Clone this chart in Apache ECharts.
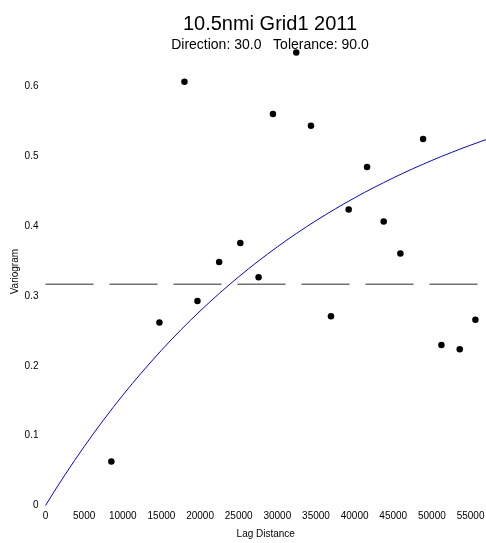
<!DOCTYPE html>
<html>
<head>
<meta charset="utf-8">
<script src="https://cdn.jsdelivr.net/npm/echarts@6/dist/echarts.min.js"></script>
<style>
html,body{margin:0;padding:0;background:#fff;}
#c{width:486px;height:543px;}
</style>
</head>
<body>
<div id="c"></div>
<script>
// Empirical variogram points: [lag distance, semivariance]
var lagDistance = [8520, 14740, 17980, 19660, 22470, 25210, 27570, 29430, 32450, 34350, 36940, 39230, 41610, 43760, 45920, 48860, 51230, 53600, 55630];
var semivariance = [0.063, 0.262, 0.607, 0.293, 0.349, 0.376, 0.327, 0.561, 0.649, 0.544, 0.271, 0.424, 0.485, 0.407, 0.361, 0.525, 0.230, 0.224, 0.266];

// Fitted model curve (lag step 1250)
var modelLag = [0, 1250, 2500, 3750, 5000, 6250, 7500, 8750, 10000, 11250, 12500, 13750, 15000, 16250, 17500, 18750, 20000, 21250, 22500, 23750, 25000, 26250, 27500, 28750, 30000, 31250, 32500, 33750, 35000, 36250, 37500, 38750, 40000, 41250, 42500, 43750, 45000, 46250, 47500, 48750, 50000, 51250, 52500, 53750, 55000, 56250, 57000];
var modelValue = [0, 0.0222, 0.0436, 0.0643, 0.0843, 0.1037, 0.1224, 0.1405, 0.1580, 0.1749, 0.1912, 0.2070, 0.2223, 0.2371, 0.2514, 0.2652, 0.2785, 0.2914, 0.3039, 0.3160, 0.3276, 0.3389, 0.3498, 0.3603, 0.3705, 0.3804, 0.3899, 0.3991, 0.4080, 0.4166, 0.4249, 0.4330, 0.4407, 0.4483, 0.4555, 0.4625, 0.4693, 0.4759, 0.4823, 0.4884, 0.4943, 0.5001, 0.5056, 0.5110, 0.5162, 0.5212, 0.5241];

// Sill (sample variance) line
var sillValue = 0.317;
var xRange = [0, 57000];

var titleText = '10.5nmi Grid1 2011';
var subtitleText = 'Direction: 30.0   Tolerance: 90.0';

var pts = lagDistance.map(function (x, i) { return [x, semivariance[i]]; });
var model = modelLag.map(function (x, i) { return [x, modelValue[i]]; });
var sill = [[xRange[0], sillValue], [xRange[1], sillValue]];

var font = '"Liberation Sans", Arial, sans-serif';
var chart = echarts.init(document.getElementById('c'), null, {renderer: 'canvas'});
chart.setOption({
  animation: false,
  backgroundColor: '#ffffff',
  title: [
    {text: titleText, left: 265, top: 9, textAlign: 'center',
     textStyle: {fontFamily: font, fontSize: 20, fontWeight: 'normal', color: '#000'}},
    {text: subtitleText, left: 265, top: 33, textAlign: 'center',
     textStyle: {fontFamily: font, fontSize: 14, fontWeight: 'normal', color: '#000'}}
  ],
  grid: {left: 45.5, right: 0, top: 37.8, bottom: 37.5, containLabel: false, outerBoundsMode: 'none'},
  xAxis: {
    type: 'value', min: xRange[0], max: xRange[1], interval: 5000,
    name: 'Lag Distance', nameLocation: 'middle', nameGap: 24, nameMoveOverlap: false,
    nameTextStyle: {fontFamily: font, fontSize: 10, color: '#000'},
    axisLine: {show: false}, axisTick: {show: false}, splitLine: {show: false},
    axisLabel: {fontFamily: font, fontSize: 10, color: '#000', margin: 6, showMaxLabel: false,
      formatter: function (v) { return String(Math.round(v)); }}
  },
  yAxis: {
    type: 'value', min: 0, max: 0.67, interval: 0.1,
    name: 'Variogram', nameLocation: 'middle', nameGap: 25, nameMoveOverlap: false,
    nameTextStyle: {fontFamily: font, fontSize: 10, color: '#000'},
    axisLine: {show: false}, axisTick: {show: false}, splitLine: {show: false},
    axisLabel: {fontFamily: font, fontSize: 10, color: '#000', margin: 7, showMaxLabel: false,
      formatter: function (v) { return String(Math.round(v * 10) / 10); }}
  },
  series: [
    {type: 'line', data: sill, symbol: 'none', silent: true,
     lineStyle: {color: '#707070', width: 1.5, type: [48, 16], dashOffset: 0}},
    {type: 'line', data: model, symbol: 'none', smooth: false, silent: true,
     lineStyle: {color: '#0000ff', width: 1}},
    {type: 'scatter', data: pts, symbol: 'circle', symbolSize: 6.5,
     itemStyle: {color: '#000', opacity: 1}}
  ]
});
</script>
</body>
</html>
